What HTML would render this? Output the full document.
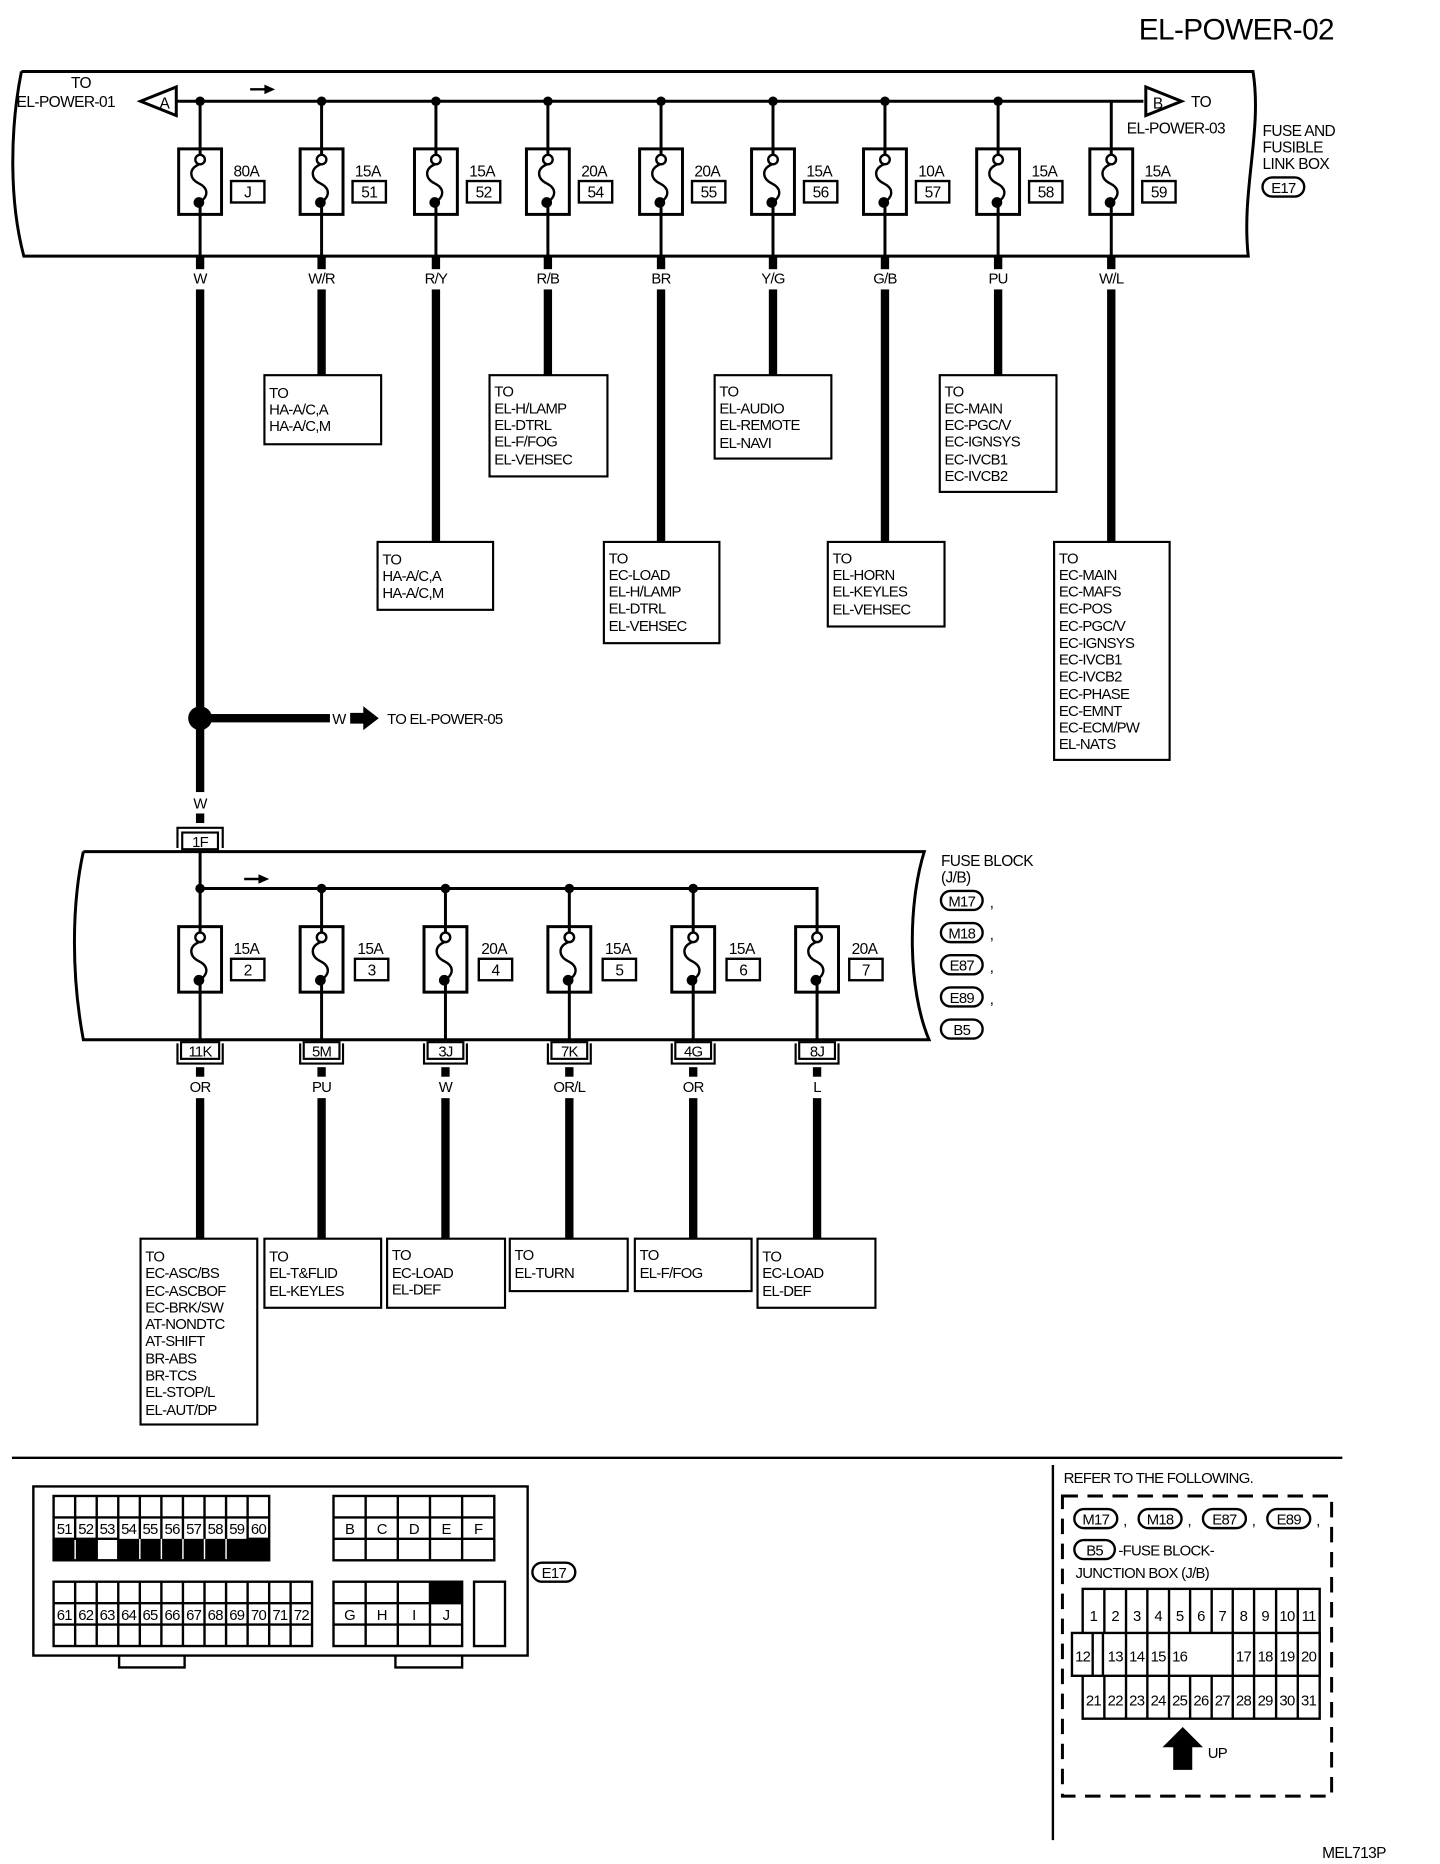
<!DOCTYPE html>
<html><head><meta charset="utf-8"><style>
html,body{margin:0;padding:0;background:#fff;}
svg{display:block;}
text{font-family:"Liberation Sans",sans-serif;fill:#000;}
.t{font-size:12.5px;letter-spacing:-0.6px;}
.s{font-size:13px;letter-spacing:-0.5px;}
.c{text-anchor:middle;}
</style></head><body>
<svg width="1440" height="1864" viewBox="0 0 1209 1565" preserveAspectRatio="none" xmlns="http://www.w3.org/2000/svg">
<defs>
<g id="fz">
<rect x="-18" y="0" width="36" height="55" fill="#fff" stroke="#000" stroke-width="2.5"/>
<line x1="0" y1="0" x2="0" y2="5" stroke="#000" stroke-width="2.5"/>
<line x1="0" y1="48" x2="0" y2="55" stroke="#000" stroke-width="2.5"/>
<circle cx="0" cy="9" r="4" fill="#fff" stroke="#000" stroke-width="2"/>
<path d="M-1,13 C-10,17 -9,25 -1,29 C7,33 8,40 -2,46" fill="none" stroke="#000" stroke-width="2"/>
<circle cx="-1" cy="45" r="4.5" fill="#000"/>
</g>
</defs>
<rect width="1209" height="1565" fill="#fff"/>
<text x="1120" y="33" font-size="25" text-anchor="end" style="letter-spacing:-0.5px">EL-POWER-02</text>

<g fill="none" stroke="#000" stroke-width="2.5">
<path d="M18,60 L1052,60 C1060,110 1042,160 1048,215 L20,215 C8,170 8,110 18,60"/>
<line x1="148" y1="85" x2="960" y2="85"/>
<polygon points="118,85 148,73 148,97" fill="#fff"/>
<polygon points="992,85 962,73 962,97" fill="#fff"/>
</g>
<text x="138" y="91" class="s c">A</text>
<text x="972" y="91" class="s c">B</text>
<text x="68" y="74" class="s c">TO</text>
<text x="14" y="90" class="s">EL-POWER-01</text>
<text x="1000" y="90" class="s">TO</text>
<text x="946" y="112" class="s">EL-POWER-03</text>
<text x="1060" y="114" class="s">FUSE AND</text>
<text x="1060" y="128" class="s">FUSIBLE</text>
<text x="1060" y="142" class="s">LINK BOX</text>
<rect x="1060" y="149" width="35" height="16" rx="8" fill="none" stroke="#000" stroke-width="2"/>
<text x="1077.5" y="162" class="t c">E17</text>
<line x1="210" y1="75" x2="224" y2="75" stroke="#000" stroke-width="2"/>
<polygon points="222,71 231,75 222,79" fill="#000"/>

<g stroke="#000" stroke-width="2.5">
<line x1="168" y1="85" x2="168" y2="215"/><line x1="270" y1="85" x2="270" y2="215"/><line x1="366" y1="85" x2="366" y2="215"/>
<line x1="460" y1="85" x2="460" y2="215"/><line x1="555" y1="85" x2="555" y2="215"/><line x1="649" y1="85" x2="649" y2="215"/>
<line x1="743" y1="85" x2="743" y2="215"/><line x1="838" y1="85" x2="838" y2="215"/><line x1="933" y1="85" x2="933" y2="215"/>
</g>
<g fill="#000">
<circle cx="168" cy="85" r="4"/><circle cx="270" cy="85" r="4"/><circle cx="366" cy="85" r="4"/><circle cx="460" cy="85" r="4"/><circle cx="555" cy="85" r="4"/><circle cx="649" cy="85" r="4"/><circle cx="743" cy="85" r="4"/><circle cx="838" cy="85" r="4"/>
</g>
<use href="#fz" x="168" y="125"/><use href="#fz" x="270" y="125"/><use href="#fz" x="366" y="125"/><use href="#fz" x="460" y="125"/><use href="#fz" x="555" y="125"/><use href="#fz" x="649" y="125"/><use href="#fz" x="743" y="125"/><use href="#fz" x="838" y="125"/><use href="#fz" x="933" y="125"/>
<g fill="none" stroke="#000" stroke-width="2">
<rect x="194" y="152" width="28" height="18"/><rect x="296" y="152" width="28" height="18"/><rect x="392" y="152" width="28" height="18"/><rect x="486" y="152" width="28" height="18"/><rect x="581" y="152" width="28" height="18"/><rect x="675" y="152" width="28" height="18"/><rect x="769" y="152" width="28" height="18"/><rect x="864" y="152" width="28" height="18"/><rect x="959" y="152" width="28" height="18"/>
</g>
<g class="s">
<text x="196" y="148">80A</text><text x="208" y="166" class="c">J</text>
<text x="298" y="148">15A</text><text x="310" y="166" class="c">51</text>
<text x="394" y="148">15A</text><text x="406" y="166" class="c">52</text>
<text x="488" y="148">20A</text><text x="500" y="166" class="c">54</text>
<text x="583" y="148">20A</text><text x="595" y="166" class="c">55</text>
<text x="677" y="148">15A</text><text x="689" y="166" class="c">56</text>
<text x="771" y="148">10A</text><text x="783" y="166" class="c">57</text>
<text x="866" y="148">15A</text><text x="878" y="166" class="c">58</text>
<text x="961" y="148">15A</text><text x="973" y="166" class="c">59</text>
</g>
<g fill="#000">
<rect x="164.5" y="216" width="7" height="10"/><rect x="266.5" y="216" width="7" height="10"/><rect x="362.5" y="216" width="7" height="10"/><rect x="456.5" y="216" width="7" height="10"/><rect x="551.5" y="216" width="7" height="10"/><rect x="645.5" y="216" width="7" height="10"/><rect x="739.5" y="216" width="7" height="10"/><rect x="834.5" y="216" width="7" height="10"/><rect x="929.5" y="216" width="7" height="10"/>
<rect x="164.5" y="243" width="7" height="422"/>
<rect x="266.5" y="243" width="7" height="72"/>
<rect x="362.5" y="243" width="7" height="212"/>
<rect x="456.5" y="243" width="7" height="72"/>
<rect x="551.5" y="243" width="7" height="212"/>
<rect x="645.5" y="243" width="7" height="72"/>
<rect x="739.5" y="243" width="7" height="212"/>
<rect x="834.5" y="243" width="7" height="72"/>
<rect x="929.5" y="243" width="7" height="212"/>
</g>
<g class="t c">
<text x="168" y="238">W</text><text x="270" y="238">W/R</text><text x="366" y="238">R/Y</text><text x="460" y="238">R/B</text><text x="555" y="238">BR</text><text x="649" y="238">Y/G</text><text x="743" y="238">G/B</text><text x="838" y="238">PU</text><text x="933" y="238">W/L</text>
</g>
<g fill="none" stroke="#000" stroke-width="1.8">
<rect x="222" y="315" width="98" height="58"/>
<rect x="317" y="455" width="97" height="57"/>
<rect x="411" y="315" width="99" height="85"/>
<rect x="507" y="455" width="97" height="85"/>
<rect x="600" y="315" width="98" height="70"/>
<rect x="695" y="455" width="98" height="71"/>
<rect x="789" y="315" width="98" height="98"/>
<rect x="885" y="455" width="97" height="183"/>
</g>
<g class="t">
<text x="226" y="334">TO</text><text x="226" y="348">HA-A/C,A</text><text x="226" y="362">HA-A/C,M</text>
<text x="321" y="474">TO</text><text x="321" y="488">HA-A/C,A</text><text x="321" y="502">HA-A/C,M</text>
<text x="415" y="333">TO</text><text x="415" y="347">EL-H/LAMP</text><text x="415" y="361">EL-DTRL</text><text x="415" y="375">EL-F/FOG</text><text x="415" y="390">EL-VEHSEC</text>
<text x="511" y="473">TO</text><text x="511" y="487">EC-LOAD</text><text x="511" y="501">EL-H/LAMP</text><text x="511" y="515">EL-DTRL</text><text x="511" y="530">EL-VEHSEC</text>
<text x="604" y="333">TO</text><text x="604" y="347">EL-AUDIO</text><text x="604" y="361">EL-REMOTE</text><text x="604" y="376">EL-NAVI</text>
<text x="699" y="473">TO</text><text x="699" y="487">EL-HORN</text><text x="699" y="501">EL-KEYLES</text><text x="699" y="516">EL-VEHSEC</text>
<text x="793" y="333">TO</text><text x="793" y="347">EC-MAIN</text><text x="793" y="361">EC-PGC/V</text><text x="793" y="375">EC-IGNSYS</text><text x="793" y="390">EC-IVCB1</text><text x="793" y="404">EC-IVCB2</text>
<text x="889" y="473">TO</text><text x="889" y="487">EC-MAIN</text><text x="889" y="501">EC-MAFS</text><text x="889" y="515">EC-POS</text><text x="889" y="530">EC-PGC/V</text><text x="889" y="544">EC-IGNSYS</text><text x="889" y="558">EC-IVCB1</text><text x="889" y="572">EC-IVCB2</text><text x="889" y="587">EC-PHASE</text><text x="889" y="601">EC-EMNT</text><text x="889" y="615">EC-ECM/PW</text><text x="889" y="629">EL-NATS</text>
</g>
<circle cx="168" cy="603" r="10" fill="#000"/>
<rect x="168" y="599.5" width="109" height="7" fill="#000"/>
<text x="279" y="608" class="t">W</text>
<polygon points="294,598.5 305,598.5 305,593 318,603 305,613 305,607.5 294,607.5" fill="#000"/>
<text x="325" y="608" class="t">TO EL-POWER-05</text>
<text x="168" y="679" class="t c">W</text>
<rect x="164.5" y="683" width="7" height="8" fill="#000"/>
<g fill="none" stroke="#000" stroke-width="1.8">
<path d="M149,712 L149,695 L187,695 L187,712"/>
<rect x="153" y="699" width="30" height="14" fill="#fff"/>
</g>
<text x="168" y="711" class="t c">1F</text>

<g fill="none" stroke="#000" stroke-width="2.5">
<path d="M70,715 L776,715 C762,760 762,830 780,873 L70,873 C60,820 60,760 70,715"/>
<path d="M168,715 L168,746 L686,746 L686,873"/>
<line x1="270" y1="746" x2="270" y2="873"/><line x1="374" y1="746" x2="374" y2="873"/><line x1="478" y1="746" x2="478" y2="873"/><line x1="582" y1="746" x2="582" y2="873"/><line x1="168" y1="746" x2="168" y2="873"/>
</g>
<g fill="#000"><circle cx="168" cy="746" r="4"/><circle cx="270" cy="746" r="4"/><circle cx="374" cy="746" r="4"/><circle cx="478" cy="746" r="4"/><circle cx="582" cy="746" r="4"/></g>
<line x1="205" y1="738" x2="219" y2="738" stroke="#000" stroke-width="2"/>
<polygon points="217,734 226,738 217,742" fill="#000"/>
<use href="#fz" x="168" y="778"/><use href="#fz" x="270" y="778"/><use href="#fz" x="374" y="778"/><use href="#fz" x="478" y="778"/><use href="#fz" x="582" y="778"/><use href="#fz" x="686" y="778"/>
<g fill="none" stroke="#000" stroke-width="2">
<rect x="194" y="805" width="28" height="18"/><rect x="298" y="805" width="28" height="18"/><rect x="402" y="805" width="28" height="18"/><rect x="506" y="805" width="28" height="18"/><rect x="610" y="805" width="28" height="18"/><rect x="713" y="805" width="28" height="18"/>
</g>
<g class="s">
<text x="196" y="801">15A</text><text x="208" y="819" class="c">2</text>
<text x="300" y="801">15A</text><text x="312" y="819" class="c">3</text>
<text x="404" y="801">20A</text><text x="416" y="819" class="c">4</text>
<text x="508" y="801">15A</text><text x="520" y="819" class="c">5</text>
<text x="612" y="801">15A</text><text x="624" y="819" class="c">6</text>
<text x="715" y="801">20A</text><text x="727" y="819" class="c">7</text>
</g>
<text x="790" y="727" class="s">FUSE BLOCK</text>
<text x="790" y="741" class="s">(J/B)</text>
<g fill="none" stroke="#000" stroke-width="2">
<rect x="790" y="748" width="35" height="16" rx="8"/><rect x="790" y="775" width="35" height="16" rx="8"/><rect x="790" y="802" width="35" height="16" rx="8"/><rect x="790" y="829" width="35" height="16" rx="8"/><rect x="790" y="856" width="35" height="16" rx="8"/>
</g>
<g class="t">
<text x="807.5" y="761" class="c">M17</text><text x="807.5" y="788" class="c">M18</text><text x="807.5" y="815" class="c">E87</text><text x="807.5" y="842" class="c">E89</text><text x="807.5" y="869" class="c">B5</text>
<text x="831" y="762">,</text><text x="831" y="789">,</text><text x="831" y="816">,</text><text x="831" y="843">,</text>
</g>
<g fill="#fff" stroke="#000" stroke-width="1.8">
<path d="M149,876 L149,893 L187,893 L187,876" fill="none"/><rect x="152" y="875" width="32" height="14"/>
<path d="M252,876 L252,893 L288,893 L288,876" fill="none"/><rect x="255" y="875" width="30" height="14"/>
<path d="M356,876 L356,893 L392,893 L392,876" fill="none"/><rect x="359" y="875" width="30" height="14"/>
<path d="M460,876 L460,893 L496,893 L496,876" fill="none"/><rect x="463" y="875" width="30" height="14"/>
<path d="M564,876 L564,893 L600,893 L600,876" fill="none"/><rect x="567" y="875" width="30" height="14"/>
<path d="M668,876 L668,893 L704,893 L704,876" fill="none"/><rect x="671" y="875" width="30" height="14"/>
</g>
<g class="t c">
<text x="168" y="887">11K</text><text x="270" y="887">5M</text><text x="374" y="887">3J</text><text x="478" y="887">7K</text><text x="582" y="887">4G</text><text x="686" y="887">8J</text>
<text x="168" y="917">OR</text><text x="270" y="917">PU</text><text x="374" y="917">W</text><text x="478" y="917">OR/L</text><text x="582" y="917">OR</text><text x="686" y="917">L</text>
</g>
<g fill="#000">
<rect x="164.5" y="896" width="7" height="8"/><rect x="266.5" y="896" width="7" height="8"/><rect x="370.5" y="896" width="7" height="8"/><rect x="474.5" y="896" width="7" height="8"/><rect x="578.5" y="896" width="7" height="8"/><rect x="682.5" y="896" width="7" height="8"/>
<rect x="164.5" y="922" width="7" height="118"/><rect x="266.5" y="922" width="7" height="118"/><rect x="370.5" y="922" width="7" height="118"/><rect x="474.5" y="922" width="7" height="118"/><rect x="578.5" y="922" width="7" height="118"/><rect x="682.5" y="922" width="7" height="118"/>
</g>
<g fill="none" stroke="#000" stroke-width="1.8">
<rect x="118" y="1040" width="98" height="156"/>
<rect x="222" y="1040" width="98" height="58"/>
<rect x="325" y="1040" width="99" height="58"/>
<rect x="428" y="1040" width="99" height="44"/>
<rect x="533" y="1040" width="98" height="44"/>
<rect x="636" y="1040" width="99" height="58"/>
</g>
<g class="t">
<text x="122" y="1059">TO</text><text x="122" y="1073">EC-ASC/BS</text><text x="122" y="1088">EC-ASCBOF</text><text x="122" y="1102">EC-BRK/SW</text><text x="122" y="1116">AT-NONDTC</text><text x="122" y="1130">AT-SHIFT</text><text x="122" y="1145">BR-ABS</text><text x="122" y="1159">BR-TCS</text><text x="122" y="1173">EL-STOP/L</text><text x="122" y="1188">EL-AUT/DP</text>
<text x="226" y="1059">TO</text><text x="226" y="1073">EL-T&amp;FLID</text><text x="226" y="1088">EL-KEYLES</text>
<text x="329" y="1058">TO</text><text x="329" y="1073">EC-LOAD</text><text x="329" y="1087">EL-DEF</text>
<text x="432" y="1058">TO</text><text x="432" y="1073">EL-TURN</text>
<text x="537" y="1058">TO</text><text x="537" y="1073">EL-F/FOG</text>
<text x="640" y="1059">TO</text><text x="640" y="1073">EC-LOAD</text><text x="640" y="1088">EL-DEF</text>
</g>

<line x1="10" y1="1224" x2="1127" y2="1224" stroke="#000" stroke-width="2"/>
<line x1="884" y1="1230" x2="884" y2="1545" stroke="#000" stroke-width="2"/>

<g fill="none" stroke="#000" stroke-width="2">
<rect x="28" y="1248" width="415" height="142"/>
<path d="M100,1390 L100,1400 L155,1400 L155,1390"/>
<path d="M332,1390 L332,1400 L388,1400 L388,1390"/>
</g>
<g fill="#000">
<rect x="45" y="1292" width="36.2" height="18"/><rect x="99.3" y="1292" width="126.7" height="18"/>
<rect x="361" y="1328" width="27" height="18"/>
</g>
<g stroke="#fff" stroke-width="1.2">
<line x1="63.1" y1="1292" x2="63.1" y2="1310"/><line x1="117.4" y1="1292" x2="117.4" y2="1310"/><line x1="135.5" y1="1292" x2="135.5" y2="1310"/><line x1="153.6" y1="1292" x2="153.6" y2="1310"/><line x1="171.7" y1="1292" x2="171.7" y2="1310"/><line x1="189.8" y1="1292" x2="189.8" y2="1310"/>
</g>
<g fill="none" stroke="#000" stroke-width="2">
<rect x="45" y="1256" width="181" height="54"/>
<line x1="45" y1="1274" x2="226" y2="1274"/><line x1="45" y1="1292" x2="99" y2="1292"/><line x1="208" y1="1292" x2="226" y2="1292"/>
<path d="M63.1,1256V1292M81.2,1256V1310M99.3,1256V1310M117.4,1256V1292M135.5,1256V1292M153.6,1256V1292M171.7,1256V1292M189.8,1256V1292M207.9,1256V1310"/>
<rect x="280" y="1256" width="135" height="54"/>
<line x1="280" y1="1274" x2="415" y2="1274"/><line x1="280" y1="1292" x2="415" y2="1292"/>
<path d="M307,1256V1310M334,1256V1310M361,1256V1310M388,1256V1310"/>
<rect x="45" y="1328" width="217" height="54"/>
<line x1="45" y1="1346" x2="262" y2="1346"/><line x1="45" y1="1364" x2="262" y2="1364"/>
<path d="M63.1,1328V1382M81.2,1328V1382M99.3,1328V1382M117.4,1328V1382M135.5,1328V1382M153.6,1328V1382M171.7,1328V1382M189.8,1328V1382M207.9,1328V1382M226,1328V1382M244,1328V1382"/>
<rect x="280" y="1328" width="108" height="54"/>
<line x1="280" y1="1346" x2="388" y2="1346"/><line x1="280" y1="1364" x2="388" y2="1364"/>
<path d="M307,1328V1382M334,1328V1382M361,1328V1382"/>
<rect x="398" y="1328" width="26" height="54"/>
</g>
<g class="t c">
<text x="54" y="1288">51</text><text x="72" y="1288">52</text><text x="90" y="1288">53</text><text x="108" y="1288">54</text><text x="126" y="1288">55</text><text x="144.5" y="1288">56</text><text x="162.6" y="1288">57</text><text x="180.7" y="1288">58</text><text x="198.8" y="1288">59</text><text x="217" y="1288">60</text>
<text x="293.5" y="1288">B</text><text x="320.5" y="1288">C</text><text x="347.5" y="1288">D</text><text x="374.5" y="1288">E</text><text x="401.5" y="1288">F</text>
<text x="54" y="1360">61</text><text x="72" y="1360">62</text><text x="90" y="1360">63</text><text x="108" y="1360">64</text><text x="126" y="1360">65</text><text x="144.5" y="1360">66</text><text x="162.6" y="1360">67</text><text x="180.7" y="1360">68</text><text x="198.8" y="1360">69</text><text x="217" y="1360">70</text><text x="235" y="1360">71</text><text x="253" y="1360">72</text>
<text x="293.5" y="1360">G</text><text x="320.5" y="1360">H</text><text x="347.5" y="1360">I</text><text x="374.5" y="1360">J</text>
</g>
<rect x="447" y="1312" width="36" height="16" rx="8" fill="none" stroke="#000" stroke-width="2"/>
<text x="465" y="1325" class="t c">E17</text>

<text x="893" y="1245" class="t">REFER TO THE FOLLOWING.</text>
<rect x="892" y="1256" width="226" height="252" fill="none" stroke="#000" stroke-width="2.5" stroke-dasharray="13,8"/>
<g fill="none" stroke="#000" stroke-width="2">
<rect x="902" y="1267" width="36" height="16" rx="8"/><rect x="956" y="1267" width="36" height="16" rx="8"/><rect x="1010" y="1267" width="36" height="16" rx="8"/><rect x="1064" y="1267" width="36" height="16" rx="8"/><rect x="902" y="1293" width="34" height="16" rx="8"/>
</g>
<g class="t">
<text x="920" y="1280" class="c">M17</text><text x="974" y="1280" class="c">M18</text><text x="1028" y="1280" class="c">E87</text><text x="1082" y="1280" class="c">E89</text><text x="919" y="1306" class="c">B5</text>
<text x="943" y="1281">,</text><text x="997" y="1281">,</text><text x="1051" y="1281">,</text><text x="1105" y="1281">,</text>
<text x="939" y="1306">-FUSE BLOCK-</text>
<text x="903" y="1325">JUNCTION BOX (J/B)</text>
</g>
<g fill="none" stroke="#000" stroke-width="2">
<rect x="909" y="1334" width="199" height="109"/>
<rect x="900" y="1371" width="208" height="36" fill="#fff"/>
<path d="M927.2,1334V1371M945.4,1334V1443M963.3,1334V1443M981.5,1334V1443M999.2,1334V1371M1017.3,1334V1371M1035,1334V1443M1052.9,1334V1443M1071.4,1334V1443M1089.6,1334V1443M917.4,1371V1407M926,1371V1407M927.2,1407V1443M999.2,1407V1443M1017.3,1407V1443"/>
</g>
<g class="t c">
<text x="918" y="1361">1</text><text x="936.3" y="1361">2</text><text x="954.4" y="1361">3</text><text x="972.4" y="1361">4</text><text x="990.4" y="1361">5</text><text x="1008.3" y="1361">6</text><text x="1026.2" y="1361">7</text><text x="1044" y="1361">8</text><text x="1062.2" y="1361">9</text><text x="1080.5" y="1361">10</text><text x="1098.7" y="1361">11</text>
<text x="909" y="1395">12</text><text x="936.3" y="1395">13</text><text x="954.4" y="1395">14</text><text x="972.4" y="1395">15</text><text x="990.4" y="1395">16</text><text x="1044" y="1395">17</text><text x="1062.2" y="1395">18</text><text x="1080.5" y="1395">19</text><text x="1098.7" y="1395">20</text>
<text x="918" y="1432">21</text><text x="936.3" y="1432">22</text><text x="954.4" y="1432">23</text><text x="972.4" y="1432">24</text><text x="990.4" y="1432">25</text><text x="1008.3" y="1432">26</text><text x="1026.2" y="1432">27</text><text x="1044" y="1432">28</text><text x="1062.2" y="1432">29</text><text x="1080.5" y="1432">30</text><text x="1098.7" y="1432">31</text>
</g>
<polygon points="993,1450 1010,1467 1001,1467 1001,1486 985,1486 985,1467 976,1467" fill="#000"/>
<text x="1014" y="1476" class="t">UP</text>
<text x="1110" y="1560" class="s">MEL713P</text>
</svg>
</body></html>
